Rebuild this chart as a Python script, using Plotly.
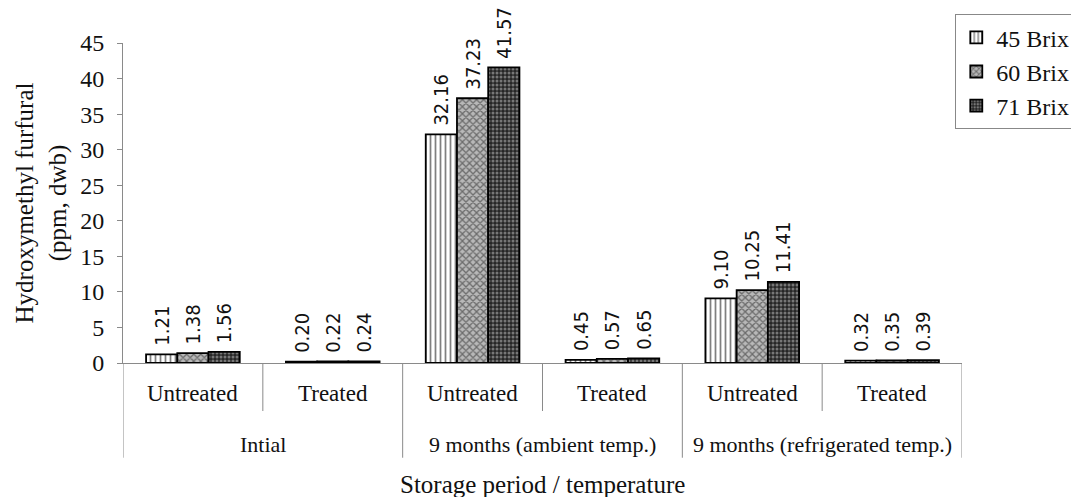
import plotly.graph_objects as go

# Storage periods (outer groups) and treatment (inner categories)
periods = ["Intial", "9 months (ambient temp.)", "9 months (refrigerated temp.)"]
treatments = ["Untreated", "Treated"]

# HMF content (ppm, dwb) per Brix level, in order:
# Intial-Untreated, Intial-Treated, Ambient-Untreated, Ambient-Treated,
# Refrigerated-Untreated, Refrigerated-Treated
brix_45 = [1.21, 0.20, 32.16, 0.45, 9.10, 0.32]
brix_60 = [1.38, 0.22, 37.23, 0.57, 10.25, 0.35]
brix_71 = [1.56, 0.24, 41.57, 0.65, 11.41, 0.39]
series_names = ["45 Brix", "60 Brix", "71 Brix"]

y_ticks = [0, 5, 10, 15, 20, 25, 30, 35, 40, 45]

SERIF = "Liberation Serif, Times New Roman, serif"
NARROW = "DejaVu Sans Condensed, Liberation Sans, sans-serif"
AXIS_GREY = "#8a8a8a"
INK = "#111111"

categories = [(p, t) for p in periods for t in treatments]
xpos = list(range(len(categories)))

patterns = [
    dict(shape="|", fgcolor="#000000", bgcolor="#ffffff", size=5, solidity=0.35),
    dict(shape="x", fgcolor="#1e1e1e", bgcolor="#b8b8b8", size=5, solidity=0.45),
    dict(shape=".", fgcolor="#c8c8c8", bgcolor="#262626", size=4, solidity=0.45),
]

fig = go.Figure()
for name, vals, pat in zip(series_names, [brix_45, brix_60, brix_71], patterns):
    fig.add_trace(go.Bar(
        x=xpos, y=vals, name=name,
        marker=dict(pattern=pat, line=dict(color="#000000", width=1.8)),
        text=["\u00a0" + f"{v:.2f}" for v in vals],
        textposition="outside", textangle=-90,
        textfont=dict(family=NARROW, size=20, color=INK),
        constraintext="none", cliponaxis=False,
    ))

# Separators below the category axis
shapes = []
n = len(categories)
for i in range(n + 1):
    b = i - 0.5
    outer = (i % len(treatments) == 0)
    shapes.append(dict(type="line", xref="x", yref="paper", x0=b, x1=b,
                       y0=0, y1=-0.296 if outer else -0.15,
                       line=dict(color=AXIS_GREY, width=1)))

annotations = []
for gi, p in enumerate(periods):
    cx = gi * len(treatments) + (len(treatments) - 1) / 2
    annotations.append(dict(x=cx, y=-0.255, xref="x", yref="paper", text=p,
                            showarrow=False, yanchor="middle",
                            font=dict(family=SERIF, size=22, color=INK)))
for i, (p, t) in enumerate(categories):
    annotations.append(dict(x=i, y=-0.095, xref="x", yref="paper", text=t,
                            showarrow=False, yanchor="middle",
                            font=dict(family=SERIF, size=23, color=INK)))
annotations.append(dict(x=0.5, y=-0.38, xref="paper", yref="paper",
                        text="Storage period / temperature", showarrow=False,
                        yanchor="middle",
                        font=dict(family=SERIF, size=25, color=INK)))

fig.update_layout(
    width=1071, height=497,
    margin=dict(l=123, r=109, t=43, b=134, autoexpand=False),
    paper_bgcolor="white", plot_bgcolor="white",
    barmode="group", bargap=0.33, bargroupgap=0,
    showlegend=True,
    legend=dict(x=0.992, xanchor="left", y=1.09, yanchor="top",
                bordercolor="#888888", borderwidth=1, bgcolor="white",
                font=dict(family=SERIF, size=24, color=INK),
                itemwidth=30),
    xaxis=dict(range=[-0.5, n - 0.5], showticklabels=False, ticks="",
               showgrid=False, zeroline=False, showline=True,
               linecolor=AXIS_GREY, linewidth=1),
    yaxis=dict(range=[0, 45], tickvals=y_ticks, ticks="outside", ticklen=5,
               tickcolor=AXIS_GREY, showgrid=False, zeroline=False,
               showline=True, linecolor=AXIS_GREY, linewidth=1,
               ticklabelstandoff=8,
               tickfont=dict(family=SERIF, size=24, color=INK),
               title=dict(text="Hydroxymethyl furfural<br>(ppm, dwb)",
                          font=dict(family=SERIF, size=25, color=INK),
                          standoff=6)),
    shapes=shapes, annotations=annotations,
)

fig.write_html("out.html")
